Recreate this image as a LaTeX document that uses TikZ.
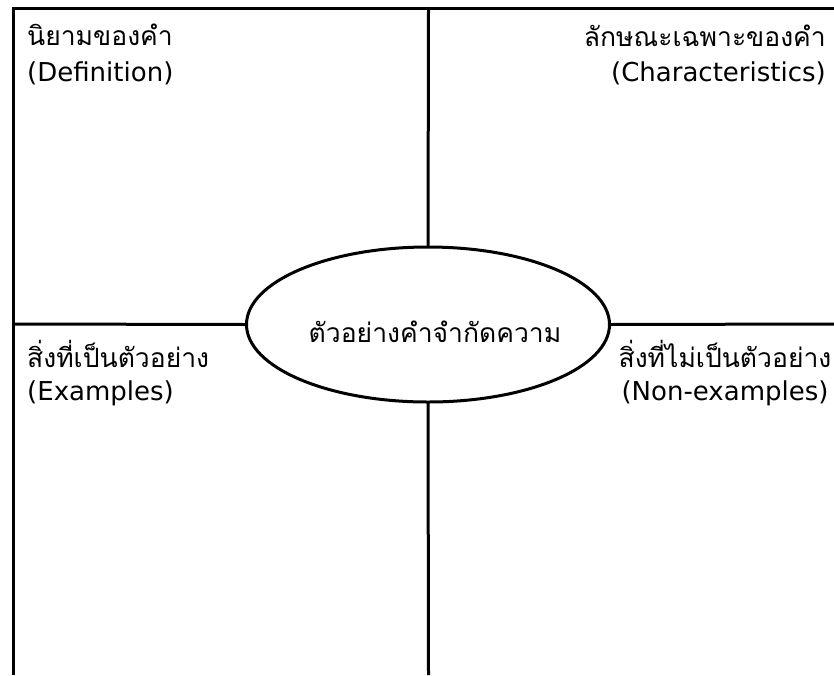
\documentclass[tikz,border=0pt]{standalone}
\usepackage{fontspec}
\setmainfont{DejaVu Sans}
\newfontfamily\thaifont[Script=Thai]{Loma}
\usetikzlibrary{shapes.geometric}
\begin{document}
\begin{tikzpicture}[x=1pt,y=-1pt,
  frame/.style={line width=3pt, black},
  lbl/.style={inner sep=0pt, text=black, font=\fontsize{26}{30}\selectfont},
  thai/.style={inner sep=0pt, text=black, font=\thaifont\fontsize{26.5}{30}\selectfont}]
\useasboundingbox (0,0) rectangle (834,675);
\fill[white] (0,0) rectangle (834,675);
\coordinate (tl) at (13,8);
\coordinate (tr) at (834,8);
\coordinate (bl) at (13,675);
\coordinate (tm) at (428.5,8);
\coordinate (bm) at (428.5,675);
\coordinate (ml) at (13,324);
\coordinate (mr) at (834,324);
\node[frame, draw, ellipse, minimum width=363pt, minimum height=155pt, inner sep=0pt, outer sep=0pt] (center) at (428,324.5) {};
\node[thai, anchor=base] (ctext) at (435,342) {ตัวอย่างคำจำกัดความ};
\draw[frame] (bl) -- (tl) -- (tr);
\draw[frame] (tm) -- (center.north);
\draw[frame] (center.south) -- (bm);
\draw[frame] (ml) -- (center.west);
\draw[frame] (center.east) -- (mr);
\node[thai, anchor=base west] (defTh) at (27,45) {นิยามของคำ};
\node[lbl, anchor=base west] (defEn) at (27,81) {(Definition)};
\node[thai, anchor=base east] (chTh) at (826,46) {ลักษณะเฉพาะของคำ};
\node[lbl, anchor=base east] (chEn) at (826,81) {(Characteristics)};
\node[thai, anchor=base west] (exTh) at (27,367) {สิ่งที่เป็นตัวอย่าง};
\node[lbl, anchor=base west] (exEn) at (27,400) {(Examples)};
\node[thai, anchor=base] (neTh) at (725,367) {สิ่งที่ไม่เป็นตัวอย่าง};
\node[lbl, anchor=base] (neEn) at (725,400) {(Non-examples)};
\end{tikzpicture}
\end{document}
